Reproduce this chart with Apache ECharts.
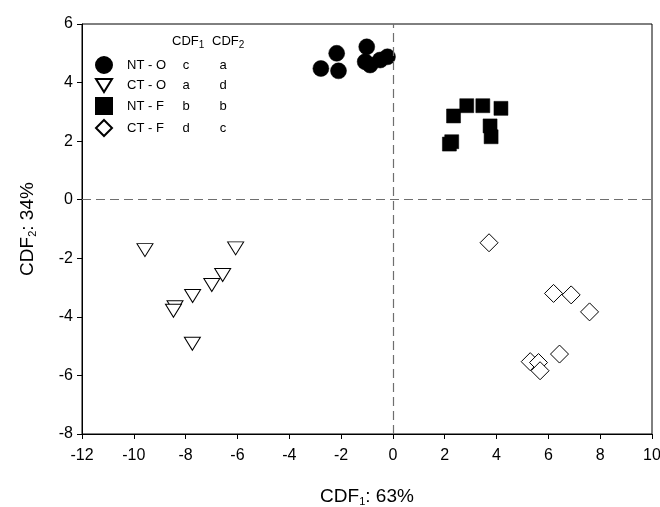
<!DOCTYPE html>
<html>
<head>
<meta charset="utf-8">
<script src="https://cdn.jsdelivr.net/npm/echarts@6/dist/echarts.min.js"></script>
<style>
  html, body { margin: 0; padding: 0; background: #fff; }
  #main { width: 660px; height: 507px; }
</style>
</head>
<body>
<div id="main"></div>
<script>
// group names + letters shown in the legend
const groupNames = ["NT - O", "CT - O", "NT - F", "CT - F"];
const cdf1Letters = ["c", "a", "b", "d"];
const cdf2Letters = ["a", "d", "b", "c"];

// NT - O (filled circles)
const ntoX = [-2.78, -2.17, -2.1, -1.01, -1.07, -0.88, -0.49, -0.21];
const ntoY = [4.48, 5.0, 4.4, 5.22, 4.71, 4.6, 4.77, 4.88];

// CT - O (open down triangles)
const ctoX = [-9.57, -6.07, -6.57, -6.99, -7.73, -8.41, -8.47, -7.74];
const ctoY = [-1.72, -1.66, -2.57, -2.91, -3.29, -3.67, -3.79, -4.92];

// NT - F (filled squares)
const ntfX = [2.34, 2.85, 3.47, 4.17, 3.75, 3.79, 2.27, 2.18];
const ntfY = [2.86, 3.21, 3.21, 3.12, 2.52, 2.15, 1.98, 1.9];

// CT - F (open diamonds)
const ctfX = [3.71, 6.2, 6.88, 7.59, 6.43, 5.3, 5.62, 5.68];
const ctfY = [-1.47, -3.2, -3.25, -3.83, -5.27, -5.53, -5.56, -5.84];

const xTicks = { min: -12, max: 10, interval: 2 };
const yTicks = { min: -8, max: 6, interval: 2 };

const FONT = "Liberation Sans, Arial, sans-serif";
const DOWN_TRI = "path://M0,0L16,0L8,13Z";

function pts(xs, ys) {
    return xs.map((x, i) => [x, ys[i]]);
}

const chart = echarts.init(document.getElementById("main"));

const subRich = {
    m: { fontFamily: FONT, fontSize: 19, color: "#000" },
    s: { fontFamily: FONT, fontSize: 11, color: "#000", padding: [10, 0, 0, 0] }
};

const headRich = {
    m: { fontFamily: FONT, fontSize: 13, fill: "#000" },
    s: { fontFamily: FONT, fontSize: 10, fill: "#000", padding: [7, 0, 0, 0] }
};

chart.setOption({
    backgroundColor: "#fff",
    animation: false,

    grid: {
        left: 82, right: 8, top: 24, bottom: 73,
        show: true,
        borderColor: "#000",
        borderWidth: 1,
        outerBoundsMode: "none"
    },

    xAxis: {
        type: "value",
        min: xTicks.min, max: xTicks.max, interval: xTicks.interval,
        name: "{m|CDF}{s|1}{m|: 63%}",
        nameLocation: "middle",
        nameGap: 52,
        nameTextStyle: { rich: subRich },
        axisLine: { show: true, onZero: false, lineStyle: { color: "#000", width: 1 } },
        axisTick: { show: true, inside: false, length: 5, lineStyle: { color: "#000" } },
        axisLabel: { fontFamily: FONT, fontSize: 16, color: "#000", margin: 14 },
        splitLine: { show: false }
    },

    yAxis: {
        type: "value",
        min: yTicks.min, max: yTicks.max, interval: yTicks.interval,
        name: "{m|CDF}{s|2}{m|: 34%}",
        nameLocation: "middle",
        nameGap: 44,
        nameRotate: 90,
        nameTextStyle: { rich: subRich },
        axisLine: { show: true, onZero: false, lineStyle: { color: "#000", width: 1 } },
        axisTick: { show: true, inside: false, length: 5, lineStyle: { color: "#000" } },
        axisLabel: { fontFamily: FONT, fontSize: 16, color: "#000", margin: 9 },
        splitLine: { show: false }
    },

    legend: {
        orient: "vertical",
        left: 95,
        top: 56,
        padding: 0,
        itemWidth: 16,
        itemHeight: 16,
        itemGap: 4,
        selectedMode: false,
        data: [
            { name: groupNames[0] },
            { name: groupNames[1], icon: DOWN_TRI },
            { name: groupNames[2] },
            { name: groupNames[3] }
        ],
        formatter: function (name) {
            const i = groupNames.indexOf(name);
            return "{n|" + name + "}{a|" + cdf1Letters[i] + "}{b|" + cdf2Letters[i] + "}";
        },
        textStyle: {
            fontFamily: FONT,
            fontSize: 13,
            color: "#000",
            padding: [0, 0, 0, 10],
            rich: {
                n: { fontFamily: FONT, fontSize: 13, width: 44 },
                a: { fontFamily: FONT, fontSize: 13, width: 30, align: "center" },
                b: { fontFamily: FONT, fontSize: 13, width: 44, align: "center" }
            }
        }
    },

    graphic: [
        {
            type: "text", left: 172, top: 35,
            style: { text: "{m|CDF}{s|1}", rich: headRich }
        },
        {
            type: "text", left: 212, top: 35,
            style: { text: "{m|CDF}{s|2}", rich: headRich }
        }
    ],

    series: [
        {
            // zero reference lines
            type: "line",
            data: [],
            silent: true,
            markLine: {
                silent: true,
                symbol: ["none", "none"],
                label: { show: false },
                lineStyle: { color: "#6e6e6e", width: 1.2, type: [9, 5] },
                data: [{ xAxis: 0 }, { yAxis: 0 }]
            }
        },
        {
            name: groupNames[0],
            type: "scatter",
            symbol: "circle",
            symbolSize: 16,
            itemStyle: { color: "#000", borderColor: "#000", borderWidth: 0.5, opacity: 1 },
            data: pts(ntoX, ntoY),
            z: 3
        },
        {
            name: groupNames[1],
            type: "scatter",
            symbol: "triangle",
            symbolRotate: 180,
            symbolSize: [16, 13],
            itemStyle: { color: "#fff", borderColor: "#000", borderWidth: 1, opacity: 1 },
            data: pts(ctoX, ctoY),
            z: 3
        },
        {
            name: groupNames[2],
            type: "scatter",
            symbol: "rect",
            symbolSize: 14,
            itemStyle: { color: "#000", borderColor: "#000", borderWidth: 0.5, opacity: 1 },
            data: pts(ntfX, ntfY),
            z: 3
        },
        {
            name: groupNames[3],
            type: "scatter",
            symbol: "diamond",
            symbolSize: 18,
            itemStyle: { color: "#fff", borderColor: "#000", borderWidth: 1, opacity: 1 },
            data: pts(ctfX, ctfY),
            z: 3
        }
    ]
});
</script>
</body>
</html>
